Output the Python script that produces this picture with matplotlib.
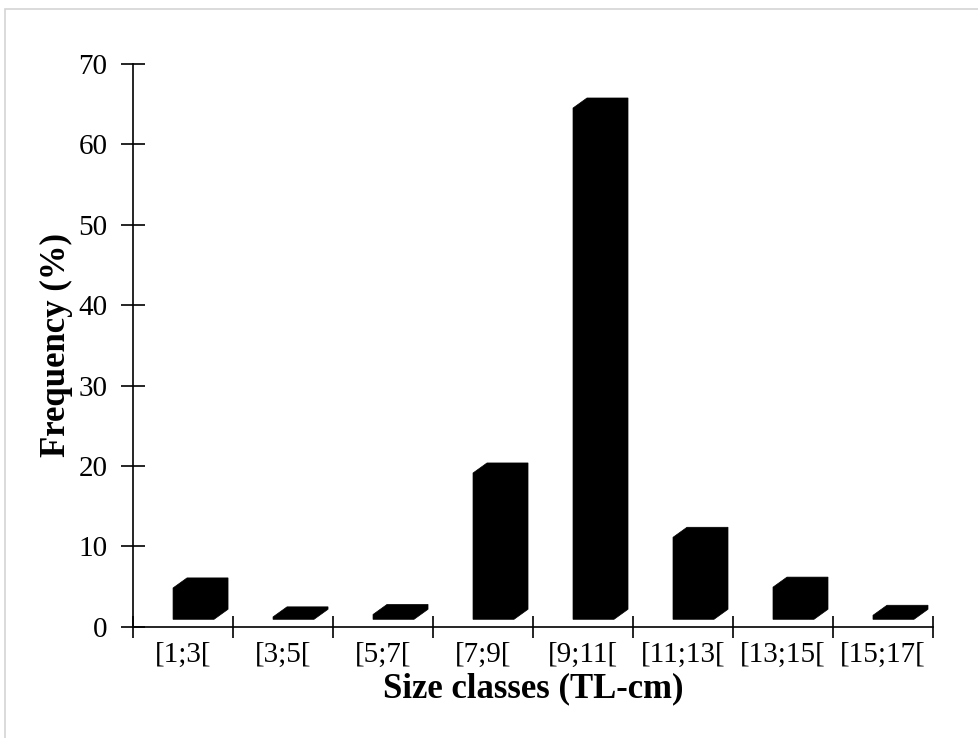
import matplotlib
matplotlib.use('Agg')
import matplotlib.pyplot as plt
from matplotlib.patches import Polygon, Rectangle

classes = ['[1;3[', '[3;5[', '[5;7[', '[7;9[', '[9;11[', '[11;13[', '[13;15[', '[15;17[']
freq = [3.9, 0.3, 0.6, 18.2, 63.6, 10.2, 4.0, 0.5]

plt.rcParams['font.family'] = ['Liberation Serif', 'DejaVu Serif']

fig = plt.figure(figsize=(9.79, 7.38), dpi=100)
ax = fig.add_axes([0.1359, 0.1508, 0.953 - 0.1359, 0.9133 - 0.1508])

# light grey frame round the whole picture
fig.patches.append(Rectangle((0.005, -0.01), 1.0, 0.998, transform=fig.transFigure,
                             fill=False, edgecolor='#d4d4d4', linewidth=1.2))

# pseudo 3d columns, like excel
base = 0.92
dx, dy = 0.14, 1.25
for i, f in enumerate(freq):
    x0 = i + 0.40
    x1 = i + 0.81
    top = base + f
    pts = [(x0, base), (x1, base), (x1 + dx, base + dy), (x1 + dx, top + dy),
           (x0 + dx, top + dy), (x0, top)]
    ax.add_patch(Polygon(pts, closed=True, facecolor='black', edgecolor='black', linewidth=0.5))

ax.set_xlim(0, 8)
ax.set_ylim(0, 70)
ax.set_yticks(range(0, 71, 10))
ax.set_xticks(range(0, 9))
ax.set_xticklabels([])
ax.set_xticks([i + 0.5 for i in range(8)], minor=True)
ax.set_xticklabels(classes, minor=True)
ax.tick_params(axis='x', which='minor', length=0, labelsize=21, pad=11)
ax.tick_params(axis='x', which='major', direction='inout', length=16, width=1.2)
ax.tick_params(axis='y', direction='inout', length=17, width=1.2, labelsize=21, pad=10)

for s in ['top', 'right']:
    ax.spines[s].set_visible(False)
for s in ['left', 'bottom']:
    ax.spines[s].set_linewidth(1.2)

ax.set_ylabel('Frequency (%)', fontsize=25, fontweight='bold', labelpad=4)
ax.set_xlabel('Size classes (TL-cm)', fontsize=25, fontweight='bold', labelpad=3)

fig.savefig('out.png', dpi=100)
